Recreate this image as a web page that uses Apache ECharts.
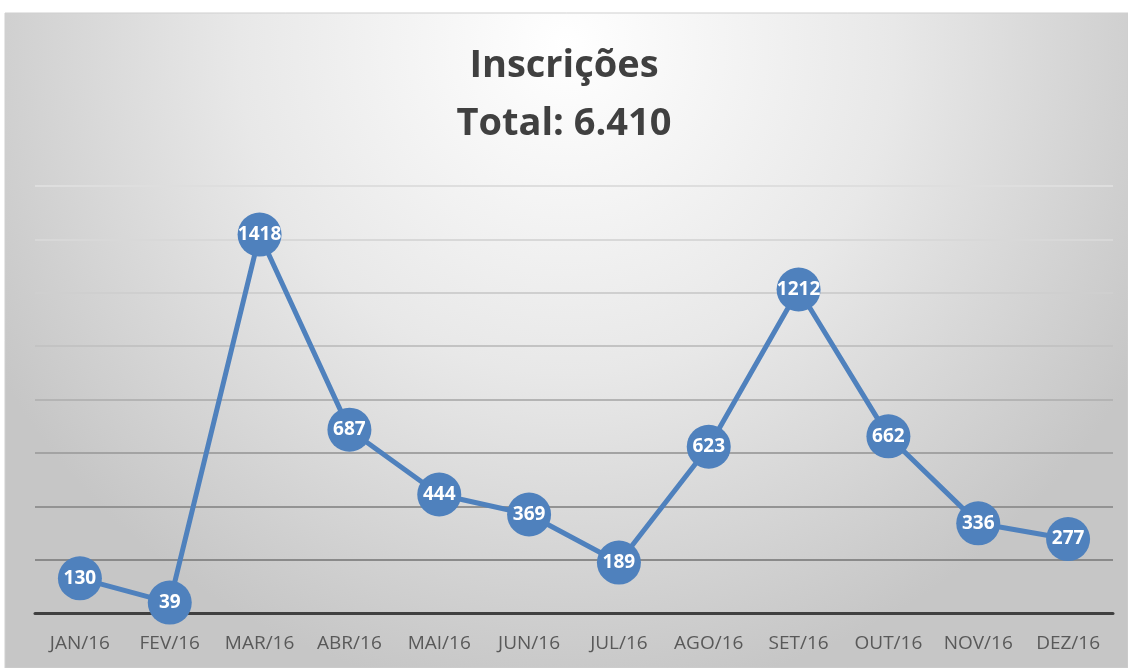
<!DOCTYPE html>
<html>
<head>
<meta charset="utf-8">
<style>
  html, body { margin: 0; padding: 0; background: #ffffff; }
  #chart { width: 1128px; height: 668px; }
</style>
<script src="https://cdn.jsdelivr.net/npm/echarts@6/dist/echarts.min.js"></script>
</head>
<body>
<div id="chart"></div>
<script>
const months = ["JAN/16", "FEV/16", "MAR/16", "ABR/16", "MAI/16", "JUN/16",
  "JUL/16", "AGO/16", "SET/16", "OUT/16", "NOV/16", "DEZ/16"];
const inscricoes = [130, 39, 1418, 687, 444, 369, 189, 623, 1212, 662, 336, 277];
const titleLines = ["Inscrições", "Total: 6.410"];

const chart = echarts.init(document.getElementById("chart"));

chart.setOption({
  animation: false,
  graphic: [
    {
      type: "rect",
      z: -10,
      shape: { x: 5, y: 13, width: 1123, height: 655 },
      style: {
        fill: new echarts.graphic.RadialGradient(0.5, 0.05, 1.0, [
          { offset: 0, color: "#ffffff" },
          { offset: 0.5, color: "#e8e8e8" },
          { offset: 1, color: "#c6c6c6" },
        ]),
        stroke: "#cfcfcf",
        lineWidth: 1,
      },
    },
  ],
  title: {
    text: titleLines.join("\n"),
    left: "center",
    top: 32,
    textStyle: {
      fontFamily: "Open Sans",
      fontWeight: "bold",
      fontSize: 38,
      lineHeight: 58,
      color: "#404040",
    },
  },
  grid: {
    left: 35,
    right: 15,
    top: 186,
    bottom: 55,
  },
  xAxis: {
    type: "category",
    data: months,
    boundaryGap: true,
    axisLine: { lineStyle: { color: "#404040", width: 3 } },
    axisTick: { show: false },
    axisLabel: {
      interval: 0,
      hideOverlap: false,
      fontFamily: "Open Sans",
      fontSize: 19,
      color: "#595959",
      margin: 21,
    },
  },
  yAxis: {
    type: "value",
    min: 0,
    max: 1600,
    interval: 200,
    axisLine: { show: false },
    axisTick: { show: false },
    axisLabel: { show: false },
    splitLine: {
      lineStyle: {
        width: 2,
        color: ["#8a8a8a", "#8a8a8a", "#939393", "#a3a3a3", "#b4b4b4",
          "#c3c3c3", "#cfcfcf", "#d8d8d8", "#dedede"],
      },
    },
  },
  series: [
    {
      type: "line",
      data: inscricoes,
      symbol: "circle",
      symbolSize: 44,
      lineStyle: { color: "#4f81bd", width: 5 },
      itemStyle: { color: "#4f81bd" },
      label: {
        show: true,
        position: "inside",
        fontFamily: "Open Sans",
        fontWeight: "bold",
        fontSize: 19,
        color: "#ffffff",
      },
    },
  ],
});
</script>
</body>
</html>
